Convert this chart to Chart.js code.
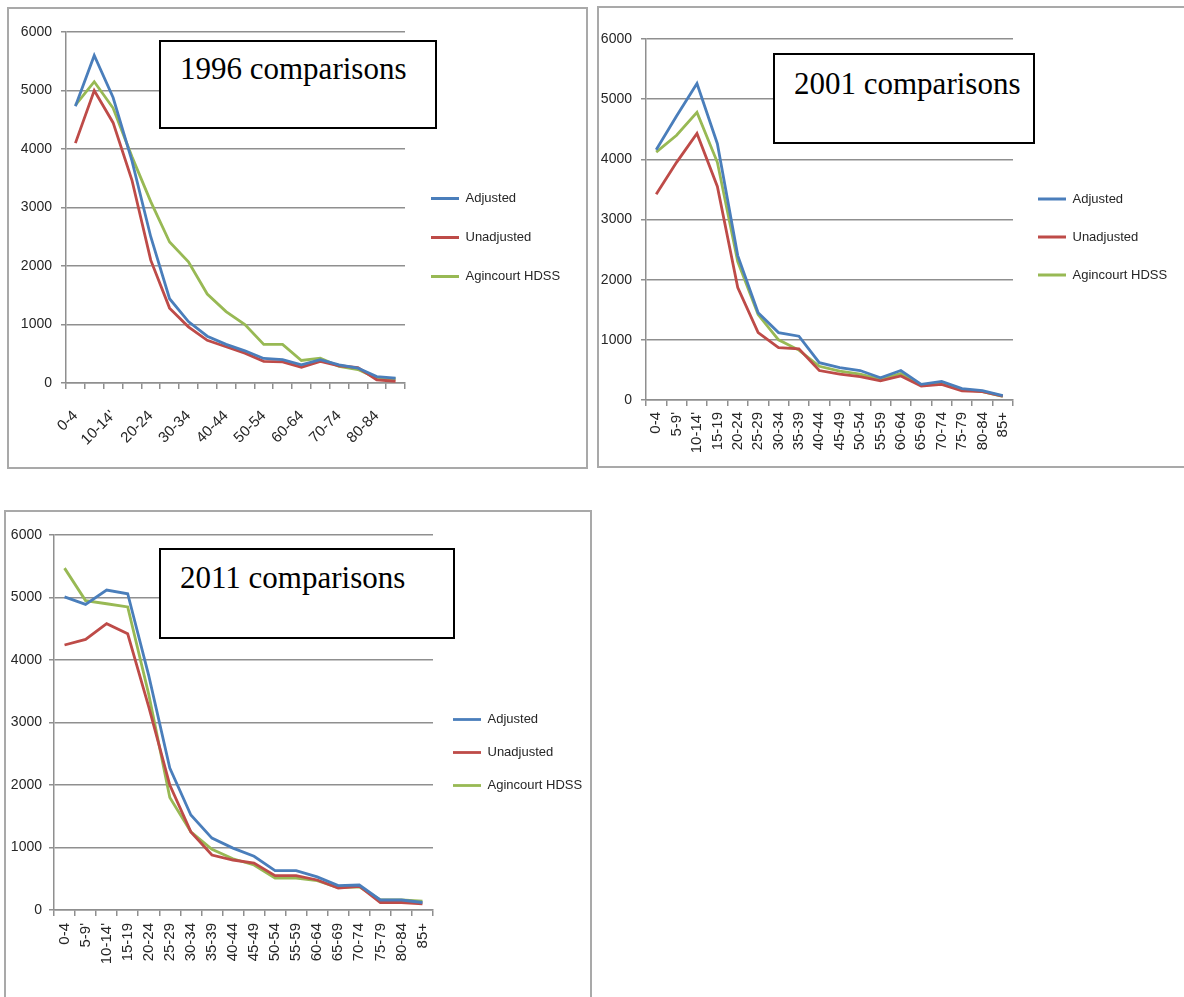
<!DOCTYPE html>
<html lang="en">
<head>
    <meta charset="UTF-8">
    <title>Agincourt comparisons</title>
    <style>
        body {
            margin: 0;
            width: 1184px;
            height: 997px;
            overflow: hidden;
            background: #fff;
        }
        .panel {
            position: absolute;
            border: 2px solid #a9a9a9;
            box-sizing: border-box;
        }
        .title-box {
            position: absolute;
            border: 2px solid #000;
            box-sizing: border-box;
            background: #fff;
            font-family: "Liberation Serif", "Times New Roman", serif;
            font-size: 31px;
            line-height: 1;
            padding-left: 19px;
            white-space: nowrap;
        }
        canvas {
            position: absolute;
        }
    </style>
</head>
<body>
    <div class="panel" style="left:7px; top:7px; width:581px; height:462px;"></div>
    <div class="panel" style="left:597px; top:6px; width:600px; height:462px;"></div>
    <div class="panel" style="left:4px; top:510px; width:588px; height:500px;"></div>

    <canvas id="chart-1996" width="578" height="459" style="left:8px; top:8px;"></canvas>
    <canvas id="chart-2001" width="585" height="458" style="left:599px; top:8px;"></canvas>
    <canvas id="chart-2011" width="585" height="483" style="left:5px; top:511px;"></canvas>

    <div class="title-box" style="left:159px; top:40px; width:278px; height:89px; padding-top:11px;">1996 comparisons</div>
    <div class="title-box" style="left:773px; top:53px; width:262px; height:91px; padding-top:13px;">2001 comparisons</div>
    <div class="title-box" style="left:159px; top:548px; width:296px; height:91px; padding-top:12px;">2011 comparisons</div>

    <script src="https://cdn.jsdelivr.net/npm/chart.js"></script>

    <script>
        // DATA

        const ageGroups = ["0-4", "5-9'", "10-14'", "15-19", "20-24", "25-29", "30-34", "35-39", "40-44",
            "45-49", "50-54", "55-59", "60-64", "65-69", "70-74", "75-79", "80-84", "85+"]

        const seriesNames = ["Adjusted", "Unadjusted", "Agincourt HDSS"]

        const yTicks = [0, 1000, 2000, 3000, 4000, 5000, 6000]

        // 1996
        const adjusted1996   = [4730, 5600, 4880, 3800, 2500, 1440, 1050, 800, 660, 550, 420, 400, 310, 400, 310, 255, 110, 85]
        const unadjusted1996 = [4100, 5000, 4450, 3470, 2100, 1280, 960, 730, 620, 510, 370, 360, 270, 370, 295, 265, 55, 30]
        const hdss1996       = [4750, 5150, 4700, 3870, 3100, 2410, 2070, 1520, 1220, 1000, 660, 660, 385, 425, 285, 230, 85, 70]

        // 2001
        const adjusted2001   = [4160, 4720, 5260, 4260, 2400, 1450, 1120, 1060, 620, 540, 490, 370, 490, 260, 310, 190, 155, 72]
        const unadjusted2001 = [3420, 3950, 4430, 3550, 1870, 1120, 870, 850, 490, 430, 390, 320, 400, 230, 260, 150, 140, 65]
        const hdss2001       = [4120, 4400, 4780, 3950, 2300, 1420, 1000, 830, 560, 480, 430, 345, 440, 250, 280, 175, 140, 58]

        // 2011
        const adjusted2011   = [5010, 4890, 5120, 5060, 3750, 2270, 1520, 1150, 990, 860, 630, 630, 530, 390, 400, 160, 160, 120]
        const unadjusted2011 = [4240, 4330, 4580, 4420, 3250, 2000, 1250, 880, 800, 750, 550, 550, 480, 350, 380, 120, 120, 100]
        const hdss2011       = [5470, 4950, 4900, 4850, 3450, 1800, 1250, 970, 820, 720, 510, 510, 470, 360, 370, 160, 160, 140]
    </script>

    <script>
        const FONT = '"Liberation Sans", Arial, sans-serif';
        Chart.defaults.font.family = FONT;
        Chart.defaults.color = '#262626';

        const lineColors = ['#4a7ebb', '#be4b48', '#98b954'];
        const gridColor = '#8f8f8f';
        const legendFontSize = 13;
        const legendBox = 28;

        const measure = document.createElement('canvas').getContext('2d');
        measure.font = legendFontSize + 'px ' + FONT;
        const legendTextWidth = Math.max(...seriesNames.map(n => measure.measureText(n).width));

        // lay: plot box in canvas pixels, legend gap, label rotation
        const makeChart = (id, series, lay) => {
            const canvas = document.getElementById(id);
            const legendSpace = canvas.width - lay.plotRight;
            const natural = lay.legendPad + legendBox + legendFontSize / 2 + legendTextWidth + 10;
            const padRight = Math.max(0, legendSpace - natural);

            return new Chart(canvas, {
                type: 'line',
                data: {
                    labels: ageGroups,
                    datasets: series.map((values, i) => ({
                        label: seriesNames[i],
                        data: values,
                        borderColor: lineColors[i],
                        backgroundColor: lineColors[i],
                        borderWidth: 2.8,
                        pointRadius: 0,
                        tension: 0
                    }))
                },
                options: {
                    responsive: false,
                    animation: false,
                    layout: { padding: { top: 0, left: 0, bottom: 0, right: padRight } },
                    scales: {
                        x: {
                            offset: true,
                            grid: { offset: true, drawOnChartArea: false, drawTicks: true, tickLength: 6, color: gridColor, lineWidth: 1.5 },
                            border: { color: gridColor, width: 1.5 },
                            ticks: {
                                autoSkip: false,
                                minRotation: lay.rotation,
                                maxRotation: lay.rotation,
                                padding: lay.xPad,
                                font: { size: 15 },
                                callback: (v, i) => (i % lay.every === 0 ? ageGroups[i] : '')
                            },
                            afterFit: (s) => {
                                s.height = canvas.height - lay.plotBottom;
                                s.paddingLeft = 0;
                                s.paddingRight = 0;
                            }
                        },
                        y: {
                            min: yTicks[0],
                            max: yTicks[yTicks.length - 1],
                            afterBuildTicks: (s) => { s.ticks = yTicks.map(v => ({ value: v })); },
                            grid: { color: gridColor, lineWidth: 1.5, tickLength: 5 },
                            border: { color: gridColor, width: 1.5 },
                            ticks: { padding: lay.yPad, font: { size: 14 }, callback: (v) => String(v) },
                            afterFit: (s) => {
                                s.width = lay.plotLeft;
                                s.paddingTop = lay.plotTop;
                                s.paddingBottom = 0;
                            }
                        }
                    },
                    plugins: {
                        legend: {
                            position: 'right',
                            maxWidth: legendSpace - padRight,
                            labels: {
                                usePointStyle: true,
                                pointStyle: 'line',
                                pointStyleWidth: legendBox,
                                padding: lay.legendPad,
                                color: '#262626',
                                font: { size: legendFontSize }
                            }
                        },
                        tooltip: { enabled: false }
                    }
                }
            });
        }

        makeChart('chart-1996', [adjusted1996, unadjusted1996, hdss1996],
            { plotLeft: 58, plotTop: 24, plotRight: 397, plotBottom: 375, legendPad: 26, rotation: 45, xPad: 18, yPad: 9, every: 2 });

        makeChart('chart-2001', [adjusted2001, unadjusted2001, hdss2001],
            { plotLeft: 47, plotTop: 31, plotRight: 414, plotBottom: 392, legendPad: 25, rotation: 90, xPad: 6, yPad: 9, every: 1 });

        makeChart('chart-2011', [adjusted2011, unadjusted2011, hdss2011],
            { plotLeft: 49, plotTop: 24, plotRight: 428, plotBottom: 399, legendPad: 20, rotation: 90, xPad: 7, yPad: 7, every: 1 });
    </script>
</body>
</html>
